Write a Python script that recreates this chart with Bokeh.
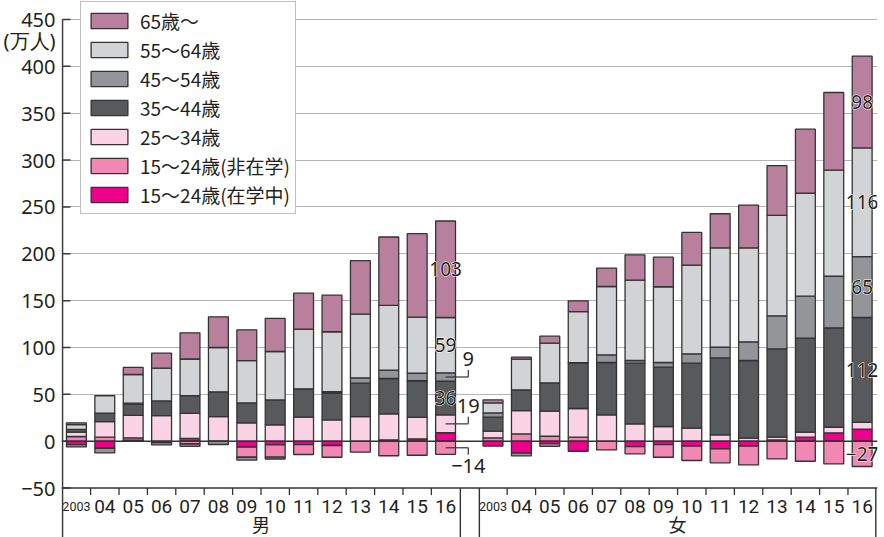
import numpy as np
from bokeh.plotting import figure
from bokeh.models import Range1d, FixedTicker, Span, Legend, LegendItem
from bokeh.core.properties import value
from bokeh.embed import file_html
from bokeh.resources import INLINE

# ---------------- data ----------------
years = ["2003", "04", "05", "06", "07", "08", "09", "10", "11", "12", "13", "14", "15", "16"]
groups = ["男", "女"]
series_names = ["15〜24歳(在学中)", "15〜24歳(非在学)", "25〜34歳", "35〜44歳",
                "45〜54歳", "55〜64歳", "65歳〜"]
colors = ["#ec008c", "#f188b4", "#fad4e4", "#58595b", "#939598", "#d1d3d4", "#b8809c"]

male_enrolled = [-3.6, -7.5, 1.0, 0.0, 3.0, 0.0, -6.4, -4.0, -3.6, -4.6, 0.0, 1.4, 2.5, 9.0]
male_nonenrolled = [5.0, 4.3, 2.6, -1.5, -3.0, 0.0, -10.7, -13.0, -10.6, -12.5, -11.7, -15.5, -15.0, -14.0]
male_25_34 = [4.6, 16.7, 24.0, 27.4, 26.7, 26.3, 19.6, 17.4, 25.6, 22.8, 26.3, 27.8, 23.0, 19.0]
male_35_44 = [3.0, 9.0, 12.0, 15.6, 19.0, 26.4, 21.3, 26.7, 30.3, 28.5, 35.6, 37.7, 39.0, 36.0]
male_45_54 = [-2.5, -5.0, 1.0, -2.5, -2.5, -3.5, -3.0, -2.0, 0.0, 1.5, 5.7, 9.0, 8.0, 9.0]
male_55_64 = [5.0, 18.6, 30.6, 35.0, 39.0, 47.3, 45.0, 51.6, 63.7, 64.0, 68.0, 69.0, 60.0, 59.0]
male_65 = [2.0, 0.0, 7.5, 16.0, 28.0, 32.7, 33.0, 35.3, 38.4, 39.0, 57.0, 73.0, 89.0, 103.0]

female_enrolled = [-5.3, -12.8, -2.5, -10.7, 0.0, -5.7, -3.6, -5.3, -8.2, -5.3, 1.4, 4.3, 8.9, 13.0]
female_nonenrolled = [3.6, 7.8, 5.3, 4.3, -9.3, -7.8, -13.5, -15.3, -14.9, -20.0, -18.9, -21.4, -24.2, -27.0]
female_25_34 = [7.1, 24.9, 26.7, 30.6, 28.1, 18.5, 15.7, 13.9, 6.8, 3.2, 2.9, 5.3, 6.0, 7.0]
female_35_44 = [14.9, 22.1, 30.3, 48.4, 55.9, 64.8, 63.3, 69.4, 82.2, 82.9, 94.3, 100.4, 106.1, 112.0]
female_45_54 = [4.6, -2.9, -3.0, 0.5, 8.2, 2.8, 5.0, 9.9, 11.4, 20.0, 35.2, 44.8, 55.0, 65.0]
female_55_64 = [10.7, 32.7, 42.3, 54.4, 72.9, 85.8, 80.8, 94.7, 106.0, 100.3, 107.1, 110.0, 113.2, 116.0]
female_65 = [3.2, 2.2, 7.5, 11.6, 19.6, 27.0, 31.6, 34.9, 36.3, 45.6, 53.1, 68.2, 82.9, 98.0]

y_ticks = [-50, 0, 50, 100, 150, 200, 250, 300, 350, 400, 450]
unit_label = "(万人)"
UNIT_POS = 427.5

# which segments of the last bar carry a value label
male_inline = [3, 5, 6]
male_callout = [1, 2, 4]
female_inline = [1, 3, 4, 5, 6]

# ---------------- layout helpers ----------------
FEMALE_OFFSET = 14.67
BAR_W = 0.70
X_MIN, X_MAX = -0.525, 28.21
AXIS_X = -0.49
Y_MIN, Y_MAX = -102.75, 470.27
Y_TOP = 450
AXIS_Y = -50
PX_X = 28.4      # px per x unit

male = [male_enrolled, male_nonenrolled, male_25_34, male_35_44, male_45_54, male_55_64, male_65]
female = [female_enrolled, female_nonenrolled, female_25_34, female_35_44, female_45_54, female_55_64, female_65]

n = len(years)
xm = np.arange(n, dtype=float)
xf = xm + FEMALE_OFFSET
xs = np.concatenate([xm, xf])
vals = np.array([m + f for m, f in zip(male, female)], dtype=float)  # (7, 28)

bottoms = np.zeros_like(vals)
tops = np.zeros_like(vals)
pos = np.zeros(vals.shape[1])
neg = np.zeros(vals.shape[1])
for k in range(vals.shape[0]):
    v = vals[k]
    b = np.where(v >= 0, pos, neg + v)
    t = np.where(v >= 0, pos + v, neg)
    bottoms[k], tops[k] = b, t
    pos = np.where(v >= 0, pos + v, pos)
    neg = np.where(v < 0, neg + v, neg)

p = figure(width=884, height=537, x_range=Range1d(X_MIN, X_MAX), y_range=Range1d(Y_MIN, Y_MAX),
           output_backend="svg", toolbar_location=None, x_axis_location=None,
           min_border_left=61, min_border_right=7, min_border_top=0, min_border_bottom=0)
p.outline_line_color = None
p.background_fill_color = "white"
p.border_fill_color = "white"

# grid
p.xgrid.visible = False
p.ygrid.ticker = FixedTicker(ticks=[t for t in y_ticks if t > 0])
p.ygrid.grid_line_color = "#b5b5b5"
p.ygrid.grid_line_width = 1.2

# y axis (line and tick marks drawn separately)
ax = p.yaxis[0]
ax.ticker = FixedTicker(ticks=y_ticks + [UNIT_POS])
ax.axis_line_color = None
ax.major_tick_in = 0
ax.major_tick_out = 0
ax.minor_tick_line_color = None
ax.major_label_text_font = "Noto Sans"
ax.major_label_text_font_size = "20px"
ax.major_label_text_color = "#231f20"
ax.major_label_standoff = 6
overrides = {t: ("−50" if t < 0 else str(t)) for t in y_ticks}
overrides[UNIT_POS] = unit_label
ax.major_label_overrides = overrides

tick_dx = 8 / PX_X
p.segment(x0=[AXIS_X] * len(y_ticks), y0=y_ticks, x1=[AXIS_X + tick_dx] * len(y_ticks), y1=y_ticks,
          line_color="#3a3a3a", line_width=1.5)
p.segment(x0=[AXIS_X], y0=[Y_MIN], x1=[AXIS_X], y1=[Y_TOP], line_color="#3a3a3a", line_width=1.6)

# bars
renderers = []
for k in range(vals.shape[0]):
    r = p.vbar(x=xs, bottom=bottoms[k], top=tops[k], width=BAR_W,
               fill_color=colors[k], line_color="#333333", line_width=1.3)
    renderers.append(r)

# zero line and bottom axis line
p.add_layout(Span(location=0, dimension="width", line_color="#333333", line_width=1.6))
p.add_layout(Span(location=AXIS_Y, dimension="width", line_color="#333333", line_width=1.6))

# x axis: tick marks between years, separators, labels
tick_len = 7.5
bx = np.concatenate([xm[:-1] + 0.5, xf[:-1] + 0.5])
p.segment(x0=bx, y0=[AXIS_Y] * len(bx), x1=bx, y1=[AXIS_Y - tick_len] * len(bx),
          line_color="#333333", line_width=1.3)
sep = [xm[-1] + 0.52, xf[0] - 0.48, xf[-1] + 0.48]
p.segment(x0=sep, y0=[AXIS_Y] * 3, x1=sep, y1=[Y_MIN] * 3, line_color="#333333", line_width=1.4)

YEAR_Y = -69.7
p.text(x=xs[1:n].tolist() + xs[n + 1:].tolist(), y=[YEAR_Y] * (2 * n - 2),
       text=years[1:] * 2, text_align="center", text_baseline="middle",
       text_font=value("Roboto"), text_font_size="19px", text_color="#231f20")
p.text(x=[xm[0], xf[0]], y=[YEAR_Y] * 2, text=[years[0]] * 2, text_align="center",
       text_baseline="middle", text_font=value("Roboto"),
       text_font_size="12.5px", text_color="#231f20")
p.text(x=[xm.mean(), xf.mean()], y=[-88.5] * 2, text=groups, text_align="center",
       text_baseline="middle", text_font=value("Noto Sans CJK JP"), text_font_size="18px",
       text_color="#231f20")

# value labels for 2016 bars
def fmt(v):
    v = int(round(v))
    return ("−" + str(-v)) if v < 0 else str(v)

jm, jf = n - 1, 2 * n - 1
lx, ly, lt = [], [], []
for k in male_inline:
    lx.append(xs[jm]); ly.append((bottoms[k, jm] + tops[k, jm]) / 2); lt.append(fmt(vals[k, jm]))
for k in female_inline:
    lx.append(xs[jf]); ly.append((bottoms[k, jf] + tops[k, jf]) / 2); lt.append(fmt(vals[k, jf]))
# white halo first, dark text on top
p.text(x=lx, y=ly, text=lt, text_align="center", text_baseline="middle",
       text_font=value("Noto Sans"), text_font_size="19px", text_color="white",
       text_outline_color="white")
p.text(x=lx, y=ly, text=lt, text_align="center", text_baseline="middle",
       text_font=value("Noto Sans"), text_font_size="19px", text_color="#231f20")

cx, cy, ct = [], [], []
seg_x0, seg_y0, seg_x1, seg_y1 = [], [], [], []
for k in male_callout:
    mid = (bottoms[k, jm] + tops[k, jm]) / 2
    sgn = 1 if vals[k, jm] >= 0 else -1
    xe = xs[jm] + 0.8
    seg_x0 += [xs[jm], xe]; seg_y0 += [mid, mid]
    seg_x1 += [xe, xe]; seg_y1 += [mid, mid + sgn * 7.5]
    cx.append(xe); cy.append(mid + sgn * 19); ct.append(fmt(vals[k, jm]))
p.segment(x0=seg_x0, y0=seg_y0, x1=seg_x1, y1=seg_y1, line_color="#333333", line_width=1.2)
p.text(x=cx, y=cy, text=ct, text_align="center", text_baseline="middle",
       text_font=value("Noto Sans"), text_font_size="20px", text_color="#231f20")

# legend
items = [LegendItem(label=series_names[k], renderers=[renderers[k]]) for k in reversed(range(7))]
legend = Legend(items=items, location=(19, 323), margin=0, padding=5,
                glyph_width=46, glyph_height=19, label_height=20, spacing=2,
                label_text_font="Noto Sans CJK JP", label_text_font_size="19px",
                label_text_color="#231f20", label_standoff=8,
                border_line_color="#808080", border_line_width=1.2,
                background_fill_color="white", background_fill_alpha=1.0)
p.add_layout(legend)

open("out.html", "w").write(file_html(p, INLINE))
